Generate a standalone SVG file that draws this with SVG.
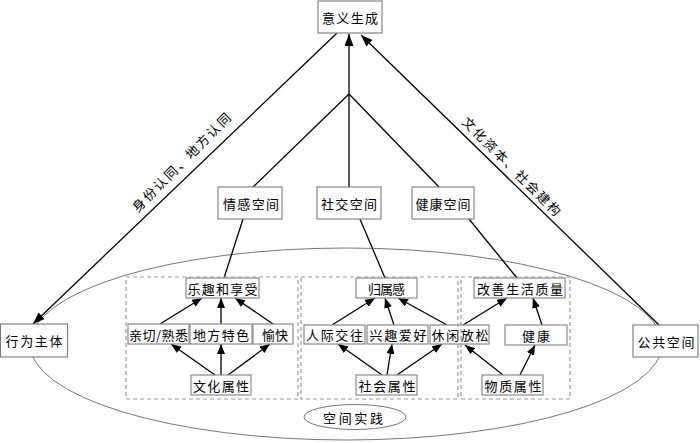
<svg xmlns="http://www.w3.org/2000/svg" width="700" height="443" viewBox="0 0 700 443">
<style>
text{font-family:"Noto Sans CJK SC","Noto Sans",sans-serif;font-size:13px;fill:#000;text-anchor:middle;dominant-baseline:central}
.box{fill:#fff;stroke:#7a7a7a;stroke-width:1.1}
.ibox{fill:#fff;stroke:#8a8a8a;stroke-width:1.2}
.dash{fill:none;stroke:#999;stroke-width:1.2;stroke-dasharray:4,3}
.ln{stroke:#000;stroke-width:1.3;fill:none}
.ell{fill:none;stroke:#777;stroke-width:1}
</style>
<defs>
<marker id="big" markerWidth="12" markerHeight="9" refX="12" refY="4.5" orient="auto" markerUnits="userSpaceOnUse"><path d="M0,0 L12,4.5 L0,9 z" fill="#000"/></marker>
<marker id="sm" markerWidth="10" markerHeight="8" refX="10" refY="4" orient="auto" markerUnits="userSpaceOnUse"><path d="M0,0 L10,4 L0,8 z" fill="#000"/></marker>
</defs>
<g id="background">
<ellipse class="ell" cx="346" cy="344" rx="316" ry="96"/>
<ellipse id="space-practice" class="ell" cx="355" cy="417" rx="51" ry="12.5"/>
<text x="353" y="417" textLength="60" lengthAdjust="spacing">空间实践</text>
</g>
<g id="connectors">
<line class="ln" x1="337" y1="33" x2="33" y2="324" marker-end="url(#big)"/>
<line class="ln" x1="659" y1="325" x2="361" y2="35" marker-end="url(#big)"/>
<line class="ln" x1="349" y1="187" x2="349" y2="34" marker-end="url(#big)"/>
<line class="ln" x1="349" y1="94" x2="253" y2="187"/>
<line class="ln" x1="349" y1="94" x2="439" y2="187"/>
<line class="ln" x1="243" y1="219" x2="224" y2="278"/>
<line class="ln" x1="360" y1="219" x2="385" y2="278"/>
<line class="ln" x1="469" y1="219" x2="517" y2="278"/>
<line class="ln" x1="160" y1="324" x2="202" y2="298" marker-end="url(#sm)"/>
<line class="ln" x1="221" y1="324" x2="221" y2="298" marker-end="url(#sm)"/>
<line class="ln" x1="273" y1="324" x2="235" y2="298" marker-end="url(#sm)"/>
<line class="ln" x1="215" y1="375" x2="171" y2="344" marker-end="url(#sm)"/>
<line class="ln" x1="221" y1="375" x2="221" y2="344" marker-end="url(#sm)"/>
<line class="ln" x1="228" y1="375" x2="270" y2="344" marker-end="url(#sm)"/>
<line class="ln" x1="332" y1="325" x2="375" y2="298" marker-end="url(#sm)"/>
<line class="ln" x1="394" y1="325" x2="385" y2="298" marker-end="url(#sm)"/>
<line class="ln" x1="447" y1="325" x2="398" y2="298" marker-end="url(#sm)"/>
<line class="ln" x1="382" y1="375" x2="338" y2="344" marker-end="url(#sm)"/>
<line class="ln" x1="387" y1="375" x2="392" y2="344" marker-end="url(#sm)"/>
<line class="ln" x1="397" y1="375" x2="442" y2="344" marker-end="url(#sm)"/>
<line class="ln" x1="463" y1="325" x2="507" y2="298" marker-end="url(#sm)"/>
<line class="ln" x1="542" y1="325" x2="533" y2="298" marker-end="url(#sm)"/>
<line class="ln" x1="503" y1="375" x2="465" y2="345" marker-end="url(#sm)"/>
<line class="ln" x1="520" y1="375" x2="535" y2="345" marker-end="url(#sm)"/>
<text transform="translate(181,162) rotate(-45)" textLength="133" lengthAdjust="spacing">身份认同、地方认同</text>
<text transform="translate(512,166) rotate(45)" textLength="133" lengthAdjust="spacing">文化资本、社会建构</text>
</g>
<g id="n-meaning"><rect class="box" x="318" y="1" width="64" height="32"/><text x="350" y="17" textLength="56" lengthAdjust="spacing">意义生成</text></g>
<g id="n-emotion"><rect class="box" x="218" y="187" width="64" height="32"/><text x="251" y="203" textLength="56" lengthAdjust="spacing">情感空间</text></g>
<g id="n-social"><rect class="box" x="317" y="187" width="64" height="32"/><text x="349" y="203" textLength="56" lengthAdjust="spacing">社交空间</text></g>
<g id="n-health"><rect class="box" x="412" y="187" width="62" height="32"/><text x="443" y="203" textLength="55" lengthAdjust="spacing">健康空间</text></g>
<g id="n-actor"><rect class="box" x="0.5" y="324" width="67" height="33"/><text x="34" y="340.5" textLength="57" lengthAdjust="spacing">行为主体</text></g>
<g id="n-public"><rect class="box" x="633" y="325" width="65" height="32"/><text x="666" y="341" textLength="57" lengthAdjust="spacing">公共空间</text></g>
<g id="n-fun"><rect class="ibox" x="186" y="278" width="73" height="20"/><text x="222.5" y="288" textLength="70" lengthAdjust="spacing">乐趣和享受</text></g>
<g id="n-familiar"><rect class="ibox" x="128" y="324" width="61" height="20"/><text x="158.5" y="334" textLength="59" lengthAdjust="spacing">亲切/熟悉</text></g>
<g id="n-local"><rect class="ibox" x="190" y="324" width="62" height="20"/><text x="221" y="334" textLength="56" lengthAdjust="spacing">地方特色</text></g>
<g id="n-happy"><rect class="ibox" x="253" y="324" width="40" height="20"/><text x="275" y="334" textLength="26" lengthAdjust="spacing">愉快</text></g>
<g id="n-culture"><rect class="ibox" x="191" y="375" width="60" height="20"/><text x="221" y="385" textLength="56" lengthAdjust="spacing">文化属性</text></g>
<g id="n-belong"><rect class="ibox" x="356" y="278" width="61" height="20"/><text x="386.5" y="288" textLength="37" lengthAdjust="spacing">归属感</text></g>
<g id="n-interact"><rect class="ibox" x="304" y="325" width="61" height="19"/><text x="334.5" y="334.5" textLength="57" lengthAdjust="spacing">人际交往</text></g>
<g id="n-hobby"><rect class="ibox" x="367" y="325" width="61" height="19"/><text x="398" y="334.5" textLength="57" lengthAdjust="spacing">兴趣爱好</text></g>
<g id="n-leisure"><rect class="ibox" x="430" y="325" width="59" height="19"/><text x="460" y="334.5" textLength="57" lengthAdjust="spacing">休闲放松</text></g>
<g id="n-socattr"><rect class="ibox" x="356" y="375" width="61" height="20"/><text x="387" y="385" textLength="57" lengthAdjust="spacing">社会属性</text></g>
<g id="n-quality"><rect class="ibox" x="474" y="278" width="91" height="20"/><text x="520" y="288" textLength="86" lengthAdjust="spacing">改善生活质量</text></g>
<g id="n-healthy"><rect class="ibox" x="505" y="325" width="62" height="20"/><text x="536" y="335" textLength="28" lengthAdjust="spacing">健康</text></g>
<g id="n-material"><rect class="ibox" x="482" y="375" width="61" height="20"/><text x="513" y="385" textLength="57" lengthAdjust="spacing">物质属性</text></g>
<g id="groups">
<rect class="dash" x="126" y="277" width="172" height="122"/>
<rect class="dash" x="301" y="277" width="157" height="122"/>
<rect class="dash" x="461" y="277" width="109" height="122"/>
</g>
</svg>
